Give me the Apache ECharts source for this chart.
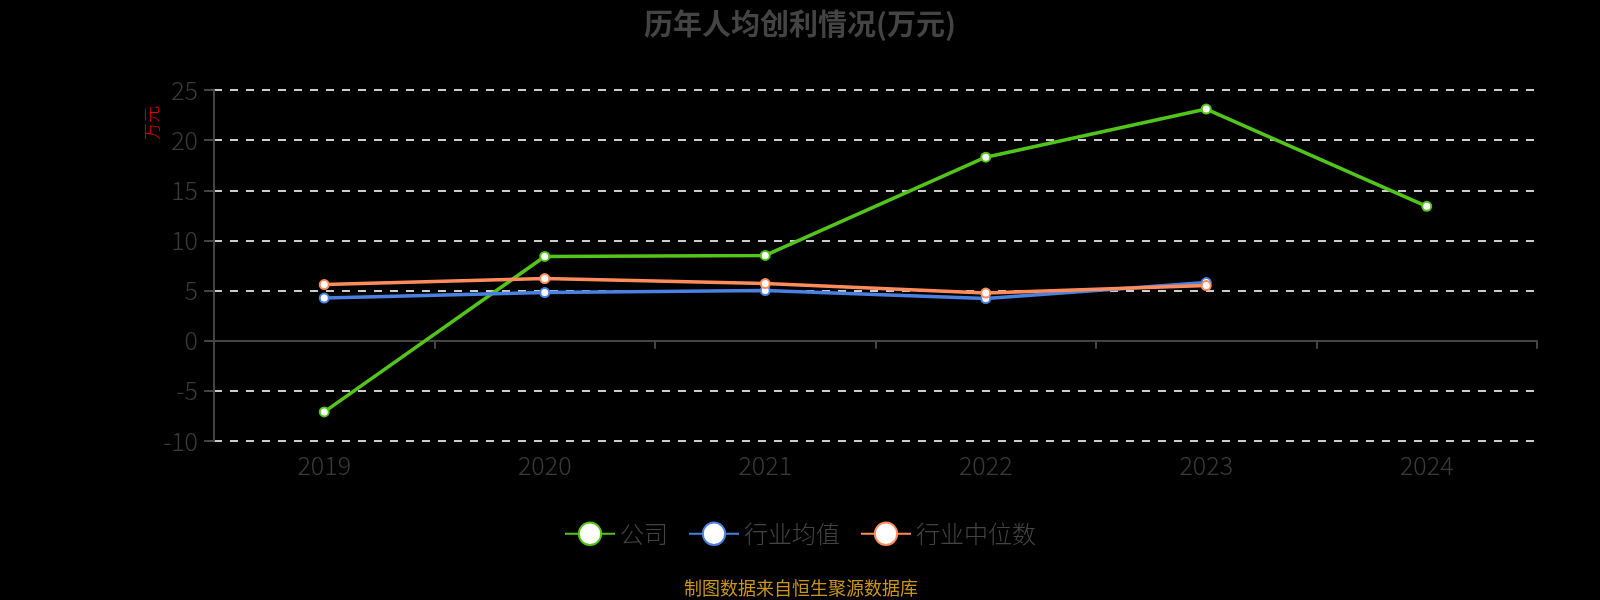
<!DOCTYPE html>
<html>
<head>
<meta charset="utf-8">
<script src="https://cdn.jsdelivr.net/npm/echarts@6/dist/echarts.min.js"></script>
<style>
  html, body { margin: 0; padding: 0; background: #000; }
  #main { width: 1600px; height: 600px; }
</style>
</head>
<body>
<div id="main"></div>
<script>
var years = ['2019', '2020', '2021', '2022', '2023', '2024'];
var company = [-7.1, 8.4, 8.5, 18.3, 23.1, 13.4];
var industryAvg = [4.25, 4.8, 5.0, 4.2, 5.8];
var industryMedian = [5.6, 6.2, 5.7, 4.75, 5.5];
var seriesNames = ['公司', '行业均值', '行业中位数'];
var colors = ['#52c41a', '#4a80e0', '#ff8c5a'];

var myChart = echarts.init(document.getElementById('main'));

function lineSeries(name, data, color) {
    return {
        name: name,
        type: 'line',
        data: data,
        symbol: 'circle',
        symbolSize: 9,
        lineStyle: { color: color, width: 3.5 },
        itemStyle: { color: '#fff', borderColor: color, borderWidth: 2 }
    };
}

var font = '"Noto Sans CJK SC", "Noto Sans", sans-serif';

var option = {
    backgroundColor: '#000',
    title: {
        text: '历年人均创利情况(万元)',
        left: 'center',
        top: 4,
        textStyle: { fontSize: 29, fontWeight: 'bold', color: '#444', fontFamily: font }
    },
    legend: {
        data: seriesNames,
        bottom: 49,
        left: 'center',
        itemWidth: 50,
        itemHeight: 28,
        itemGap: 20,
        textStyle: { fontSize: 24, color: '#444', fontWeight: 300, fontFamily: font }
    },
    grid: { left: 214, right: 63, top: 90, bottom: 159 },
    xAxis: [
        {
            // axis line and ticks sit on the zero line
            type: 'category',
            data: years,
            axisLine: { onZero: true, lineStyle: { color: '#444', width: 2 } },
            axisTick: { show: true, length: 8, lineStyle: { color: '#444', width: 2 } },
            axisLabel: { show: false }
        },
        {
            // labels stay at the bottom of the grid
            type: 'category',
            data: years,
            position: 'bottom',
            axisLine: { show: false, onZero: false },
            axisTick: { show: false },
            axisLabel: { margin: 12, fontSize: 25, color: '#3a3a3a', fontWeight: 300, fontFamily: font }
        }
    ],
    yAxis: {
        type: 'value',
        min: -10,
        max: 25,
        interval: 5,
        axisLine: { show: true, lineStyle: { color: '#444', width: 2 } },
        axisTick: { show: true, length: 10, lineStyle: { color: '#444', width: 2 } },
        axisLabel: { margin: 16, fontSize: 25, color: '#3a3a3a', fontWeight: 300, fontFamily: font },
        splitLine: { lineStyle: { color: '#ccc', width: 2, type: [8, 8] } }
    },
    graphic: [
        {
            type: 'text',
            x: 152, y: 123,
            rotation: Math.PI / 2,
            style: { text: '万元', fill: '#e00000', fontSize: 17, fontWeight: 300, fontFamily: font, align: 'center', verticalAlign: 'middle' }
        },
        {
            type: 'text',
            x: 801, y: 588,
            style: { text: '制图数据来自恒生聚源数据库', fill: '#c9961a', fontSize: 18, fontFamily: font, align: 'center', verticalAlign: 'middle' }
        }
    ],
    series: [
        lineSeries(seriesNames[0], company, colors[0]),
        lineSeries(seriesNames[1], industryAvg, colors[1]),
        lineSeries(seriesNames[2], industryMedian, colors[2])
    ]
};

myChart.setOption(option);
</script>
</body>
</html>
